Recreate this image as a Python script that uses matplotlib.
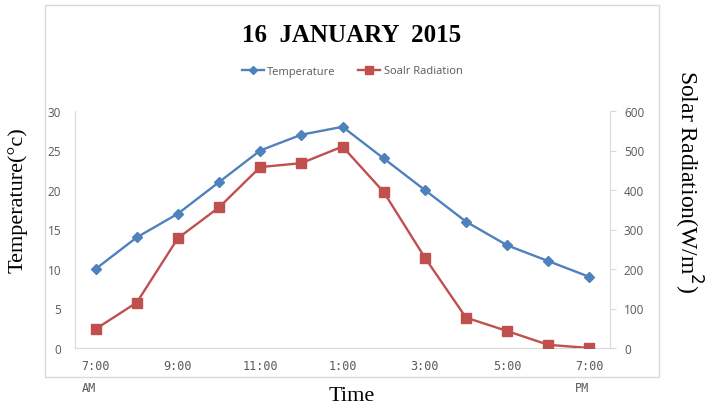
import matplotlib
matplotlib.use("Agg")
import matplotlib.pyplot as plt
from matplotlib.patches import Rectangle

# ---- data ----
hours = ["7:00\nAM", "8:00", "9:00", "10:00", "11:00", "12:00", "1:00",
         "2:00", "3:00", "4:00", "5:00", "6:00", "7:00\nPM"]
temperature = [10, 14, 17, 21, 25, 27, 28, 24, 20, 16, 13, 11, 9]
radiation = [48, 115, 278, 356, 458, 468, 510, 395, 229, 77, 43, 8, 0]

BLUE = "#4F81BD"
RED = "#C0504D"
GREY = "#595959"
AXIS = "#D9D9D9"


def main():
    fig = plt.figure(figsize=(7.09, 4.14), dpi=100)
    W, H = 709, 414

    # chart frame
    fig.patches.append(Rectangle((45 / W, 1 - 378 / H), 614 / W, 372 / H,
                                 transform=fig.transFigure, fill=False,
                                 edgecolor=AXIS, linewidth=1.0))

    ax = fig.add_axes([75 / W, 1 - 349 / H, 535 / W, 237 / H])
    ax2 = ax.twinx()

    x = list(range(len(hours)))
    l1, = ax.plot(x, temperature, color=BLUE, marker="D", markersize=5,
                  linewidth=1.7, label="Temperature")
    l2, = ax2.plot(x, radiation, color=RED, marker="s", markersize=6.5,
                   linewidth=1.7, label="Soalr Radiation")

    ax.set_xlim(-0.5, len(hours) - 0.5)
    ax.set_ylim(0, 30)
    ax2.set_ylim(0, 600)
    ax.set_yticks(range(0, 31, 5))
    ax2.set_yticks(range(0, 601, 100))
    ax.set_xticks(x[::2])
    ax.set_xticklabels(hours[::2], family="DejaVu Sans Mono", fontsize=8.5,
                       color=GREY, linespacing=1.9, multialignment="left")

    for a in (ax, ax2):
        for s in a.spines.values():
            s.set_visible(False)
        a.tick_params(axis="y", colors=GREY, labelsize=8.5, length=4,
                      color=AXIS)
        for t in a.get_yticklabels():
            t.set_family("Open Sans")
    ax.spines["left"].set_visible(True)
    ax.spines["left"].set_color(AXIS)
    ax.spines["bottom"].set_visible(True)
    ax.spines["bottom"].set_color(AXIS)
    ax2.spines["right"].set_visible(True)
    ax2.spines["right"].set_color(AXIS)
    ax.tick_params(axis="x", length=0, pad=8)
    ax.tick_params(axis="y", length=0, pad=10)
    ax2.tick_params(axis="y", pad=6)

    fig.text(352 / W, 1 - 36 / H, "16  JANUARY  2015", ha="center", va="center",
             family="Liberation Serif", fontweight="bold", fontsize=18)
    fig.legend(handles=[l1, l2], loc="center", bbox_to_anchor=(352 / W, 1 - 72 / H),
               ncol=2, frameon=False, prop={"family": "Open Sans", "size": 8},
               handlelength=2.0, columnspacing=2.0, handletextpad=0.3,
               labelcolor=GREY, markerscale=0.8)

    fig.text(18 / W, 1 - 200 / H, "Temperature(\u00b0c)", rotation=90,
             ha="center", va="center", family="Liberation Serif", fontsize=16)
    fig.text(688 / W, 1 - 182 / H, "Solar Radiation(W/m$^{2}$)", rotation=270,
             ha="center", va="center", family="Liberation Serif", fontsize=17)
    fig.text(352 / W, 1 - 397 / H, "Time", ha="center", va="center",
             family="Liberation Serif", fontsize=16)

    fig.savefig("out.png", dpi=100)


if __name__ == "__main__":
    main()
